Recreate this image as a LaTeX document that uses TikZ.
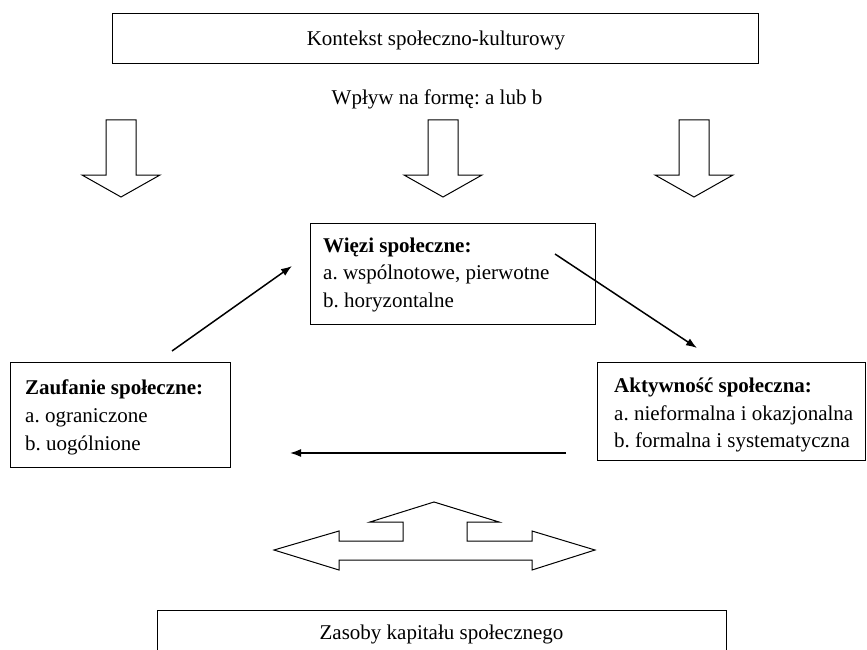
\documentclass[tikz,border=0pt]{standalone}
\usepackage{fontspec}
\setmainfont{Liberation Serif}
\usetikzlibrary{arrows.meta,calc}
\frenchspacing
\begin{document}
\begin{tikzpicture}[x=1pt,y=-1pt,
  box/.style={draw, line width=1pt, inner sep=0pt},
  txt/.style={inner sep=0pt, font=\fontsize{21}{28}\selectfont\frenchspacing},
  ln/.style={txt, anchor=base west},
  conn/.style={line width=1.5pt, -{Latex[length=11pt,width=8pt]}},
  blk/.style={draw, line width=1pt, fill=white, line join=miter},
  dnarrow/.pic={\draw[blk] (-15,0) -- (15,0) -- (15,55) -- (39,55) -- (0,77) -- (-39,55) -- (-15,55) -- cycle;}]
\clip (0,0) rectangle (867,650);
\fill[white] (0,0) rectangle (867,650);
% top box
\node[box, minimum width=646pt, minimum height=50pt] (ctx) at (435,39) {};
\node[txt, anchor=base] (ctxt) at (436,46) {Kontekst społeczno-kulturowy};
\node[txt, anchor=base] (wplyw) at (437,105) {Wpływ na formę: a lub b};
% down arrows
\pic at (121,120) {dnarrow};
\pic at (443,120) {dnarrow};
\pic at (694,120) {dnarrow};
% Wiezi
\node[box, minimum width=285pt, minimum height=101pt] (wiezi) at (452.5,273.5) {};
\node[ln] (w1) at (323,252) {\bfseries Więzi społeczne:};
\node[ln] (w2) at (323,279.5) {a. wspólnotowe, pierwotne};
\node[ln] (w3) at (323,307) {b. horyzontalne};
% Zaufanie
\node[box, minimum width=220pt, minimum height=105pt] (zauf) at (120,414.5) {};
\node[ln] (z1) at (25,394) {\bfseries Zaufanie społeczne:};
\node[ln] (z2) at (25,422) {a. ograniczone};
\node[ln] (z3) at (25,450) {b. uogólnione};
% Aktywnosc
\node[box, minimum width=268pt, minimum height=98pt] (akt) at (731,411) {};
\node[ln] (a1) at (614,392) {\bfseries Aktywność społeczna:};
\node[ln] (a2) at (614,420) {a. nieformalna i okazjonalna};
\node[ln] (a3) at (614,447.5) {b. formalna i systematyczna};
% connectors
\coordinate (zs) at (172,351);
\coordinate (we) at (292,266);
\coordinate (ws) at (555,254);
\coordinate (ae) at (697,348);
\coordinate (as) at (566,453);
\coordinate (ze) at (290,453);
\draw[conn] (zs) -- (we);
\draw[conn] (ws) -- (ae);
\draw[conn] (as) -- (ze);
% triple block arrow
\draw[blk] (274,550) -- (339,531) -- (339,541) -- (403,541) -- (403,522) -- (370,522)
  -- (434,502) -- (499,522) -- (467,522) -- (467,541) -- (532,541) -- (532,531)
  -- (595,550) -- (532,570) -- (532,560) -- (339,560) -- (339,570) -- cycle;
% bottom box
\node[box, minimum width=569pt, minimum height=80pt] (zas) at (441.5,650) {};
\node[txt, anchor=base] (zast) at (441.5,639) {Zasoby kapitału społecznego};
\end{tikzpicture}
\end{document}
